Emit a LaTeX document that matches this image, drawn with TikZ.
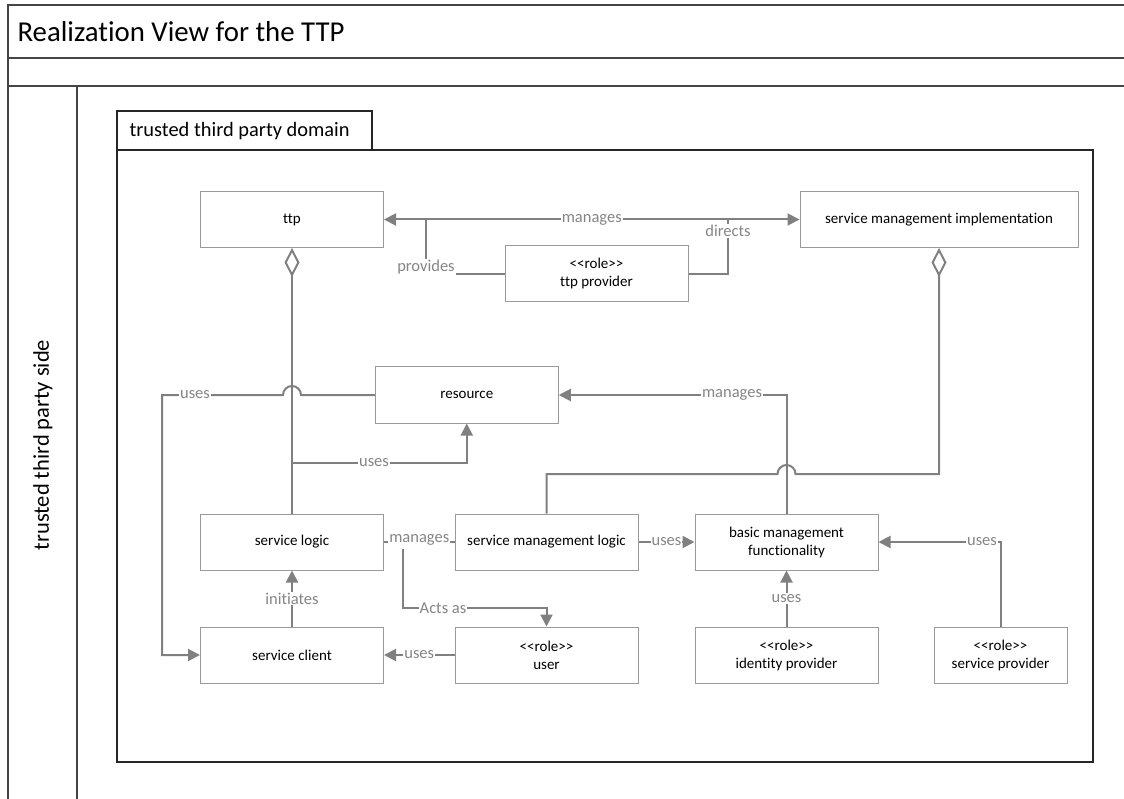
\documentclass[tikz,border=0pt]{standalone}
\usepackage{fontspec}
\setmainfont{Carlito}[Ligatures={NoCommon}]
\usetikzlibrary{arrows.meta}
\definecolor{connc}{HTML}{808080}
\definecolor{lblc}{HTML}{858585}
\definecolor{nbd}{HTML}{9A9A9A}
\definecolor{frm}{HTML}{454545}
\tikzset{
  box/.style={draw=nbd, line width=1pt, minimum width=183pt, minimum height=56pt, inner sep=0pt, align=center, font=\fontsize{15}{18}\selectfont, text=black},
  conn/.style={draw=connc, line width=2pt},
  lab/.style={font=\fontsize{16.5}{18}\selectfont, text=lblc, fill=white, inner sep=1pt},
  tip/.style={-{Triangle[length=12pt,width=12pt]}},
  agg/.style={{Diamond[open,length=29pt,width=15pt]}-},
  frame/.style={draw=frm, line width=1.5pt},
  dom/.style={draw=black!85, line width=1.4pt},
}
\begin{document}
\begin{tikzpicture}[x=1pt,y=-1pt]
\useasboundingbox (0,0) rectangle (1124,799);
% outer frame
\draw[frame] (1124,5) -- (8,5) -- (8,799);
\draw[frame] (8,58) -- (1124,58);
\draw[frame] (8,86) -- (1124,86);
\draw[frame] (77,86) -- (77,799);
\node[anchor=west, font=\fontsize{28.8}{32}\selectfont] (title) at (14,31.5) {Realization View for the TTP};
\node[rotate=90, font=\fontsize{22.5}{26}\selectfont] (side) at (43,445) {trusted third party side};
% domain
\draw[dom] (117,111) rectangle (372,150);
\draw[dom] (117,150) rectangle (1093,762);
\node[anchor=west, font=\fontsize{20.4}{24}\selectfont] (domlab) at (126,131) {trusted third party domain};
% nodes
\node[box] (ttp) at (292,219.5) {ttp};
\node[box, minimum width=278pt] (smi) at (939,219.5) {service management implementation};
\node[box] (ttpprov) at (596.5,274) {<{}<role>{}>\\ttp provider};
\node[box] (res) at (466.75,395) {resource};
\node[box] (sl) at (292,542) {service logic};
\node[box] (sml) at (546.5,542) {service management logic};
\node[box] (bmf) at (786.5,542) {basic management\\functionality};
\node[box] (sc) at (292,655) {service client};
\node[box] (user) at (546.5,655) {<{}<role>{}>\\user};
\node[box] (idp) at (786.5,655) {<{}<role>{}>\\identity provider};
\node[box, minimum width=133pt] (sp) at (1000.5,655) {<{}<role>{}>\\service provider};
% connectors
\draw[conn, {Triangle[length=12pt,width=12pt]}-{Triangle[length=12pt,width=12pt]}] (ttp.east) -- (smi.west) node[lab, midway] {manages};
\coordinate (pj) at (426,219.5);
\draw[conn] (ttpprov.west) -| (pj);
\node[lab] (provl) at (426,267) {provides};
\coordinate (dj) at (728,219.5);
\draw[conn] (ttpprov.east) -| (dj);
\node[lab] (dirl) at (728,231) {directs};
\draw[conn, agg] (ttp.south) -- (sl.north);
\draw[conn, agg] (smi.south) -- (939,474) -- (795.5,474) arc[start angle=0, end angle=180, radius=9pt] -- (546.5,474) -- (sml.north);
\draw[conn, tip] (res.west) -- (301,395) arc[start angle=0, end angle=180, radius=9pt] -- (162,395) |- (sc.west);
\node[lab] (usesl1) at (195,395) {uses};
\draw[conn, tip] (sl.north) -- (292,463) -| (res.south);
\node[lab] (usesl2) at (374,463) {uses};
\draw[conn, tip] (bmf.north) |- (res.east);
\node[lab] (manl2) at (732,395) {manages};
\draw[conn] (sml.west) -- (sl.east) node[lab, midway, yshift=2pt] {manages};
\coordinate (aa) at (403,549);
\draw[conn, tip] (aa) -- (403,608) -| (user.north);
\node[lab] (actl) at (443,608) {Acts as};
\draw[conn, tip] (sml.east) -- (bmf.west) node[lab, midway] {uses};
\draw[conn, tip] (user.west) -- (sc.east) node[lab, midway] {uses};
\draw[conn, tip] (sc.north) -- (sl.south) node[lab, midway] {initiates};
\draw[conn, tip] (idp.north) -- (bmf.south) node[lab, midway] {uses};
\draw[conn, tip] (sp.north) |- (bmf.east);
\node[lab] (usesl3) at (982,542) {uses};
\end{tikzpicture}
\end{document}
